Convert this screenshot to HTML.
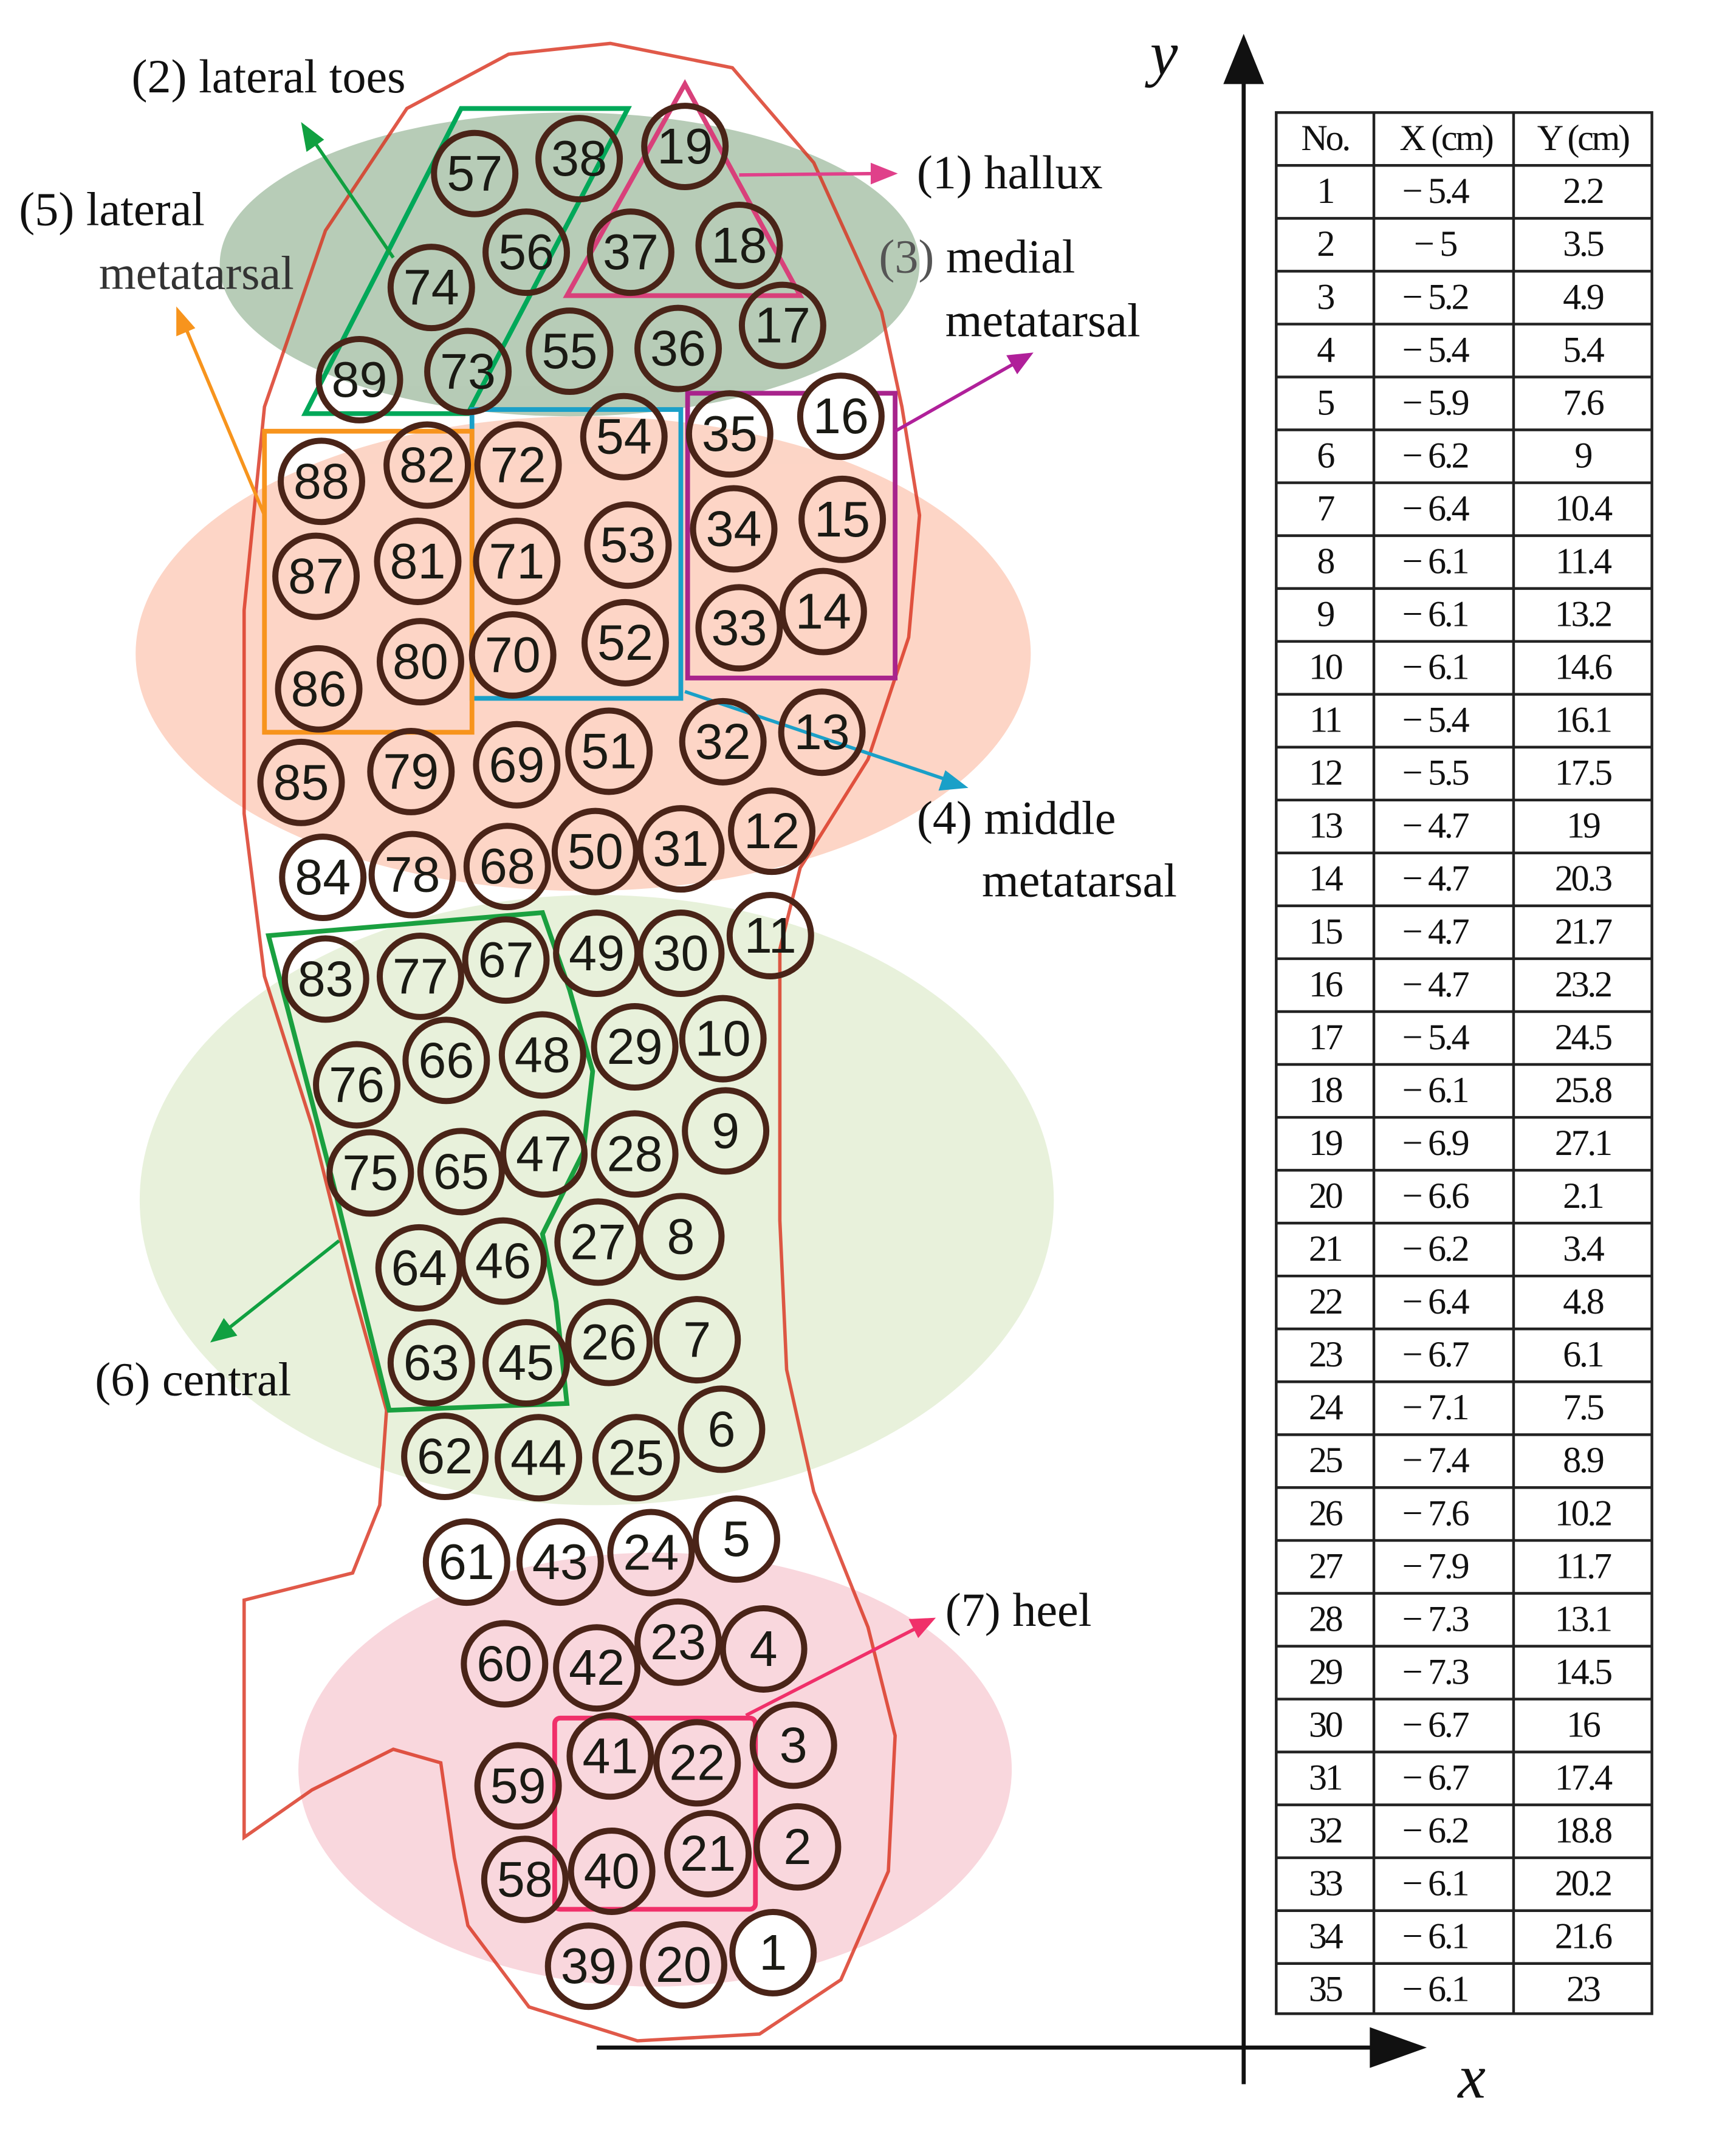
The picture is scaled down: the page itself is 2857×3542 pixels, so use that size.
<!DOCTYPE html>
<html><head><meta charset="utf-8"><style>html,body{margin:0;padding:0;background:#fff}svg{display:block}</style></head><body>
<svg width="2857" height="3542" viewBox="0 0 1280 1587" preserveAspectRatio="none" xmlns="http://www.w3.org/2000/svg">
<rect width="1280" height="1587" fill="#fff"/>
<g opacity="0.8">
<ellipse cx="420" cy="195" rx="258" ry="112" fill="#a5bfa5"/>
<ellipse cx="430" cy="482" rx="330" ry="175" fill="#fccbb8"/>
<ellipse cx="440" cy="885" rx="337" ry="225" fill="#e2eed2"/>
<ellipse cx="483" cy="1305" rx="263" ry="160" fill="#f8cdd4"/>
</g>
<path d="M375,40 L450,32 L540,50 L600,120 L650,230 L665,300 L678,380 L670,470 L640,560 L590,640 L575,700 L575,900 L580,1010 L600,1100 L640,1200 L660,1280 L655,1380 L620,1460 L560,1500 L470,1505 L390,1480 L345,1420 L335,1370 L325,1300 L290,1290 L230,1320 L180,1355 L180,1180 L260,1160 L280,1110 L285,1040 L260,950 L230,830 L195,720 L180,600 L180,450 L195,300 L240,170 L300,80 Z" fill="none" stroke="#d8301c" stroke-opacity="0.8" stroke-width="2.5"/>
<g fill="none" stroke-width="3.5">
<polygon points="225,305 340,80 463,80 345,305" stroke="#00a859"/>
<polygon points="505,62 418,218 590,218" stroke="#d8407a"/>
<rect x="348" y="302" width="154" height="213" stroke="#1aa0c8"/>
<rect x="507" y="290" width="153" height="210" stroke="#a8248c"/>
<rect x="195" y="318" width="153" height="222" stroke="#f7941d"/>
<polygon points="198,690 400,673 420,730 437,790 430,850 400,910 410,960 418,1035 287,1040 245,870" stroke="#1aa040"/>
<rect x="409" y="1267" width="148" height="141" rx="4" stroke="#f0306a"/>
</g>
<g stroke-width="2.5" fill="none">
<line x1="545" y1="129" x2="645" y2="128" stroke="#e0408a"/><path d="M662,128 L642,120 L642,136 Z" fill="#e0408a"/>
<line x1="290" y1="190" x2="230" y2="102" stroke="#10a040"/><path d="M222,90 L226,112 L239,103 Z" fill="#10a040"/>
<line x1="195" y1="380" x2="137" y2="242" stroke="#f7941d"/><path d="M130,226 L130,248 L144,242 Z" fill="#f7941d"/>
<line x1="660" y1="318" x2="748" y2="268" stroke="#b0209a"/><path d="M762,260 L742,262 L750,276 Z" fill="#b0209a"/>
<line x1="505" y1="510" x2="698" y2="575" stroke="#1aa0c8"/><path d="M714,581 L697,568 L692,583 Z" fill="#1aa0c8"/>
<line x1="250" y1="915" x2="168" y2="980" stroke="#10a040"/><path d="M155,990 L175,985 L165,972 Z" fill="#10a040"/>
<line x1="550" y1="1265" x2="675" y2="1201" stroke="#f0306a"/><path d="M690,1193 L670,1194 L677,1208 Z" fill="#f0306a"/>
</g>
<g font-family="Liberation Serif, serif" font-size="35" fill="#111">
<text x="97" y="68">(2) lateral toes</text>
<text x="676" y="139">(1) hallux</text>
<text x="14" y="166">(5) lateral</text>
<text x="73" y="213" fill="#333">metatarsal</text>
<text x="648" y="201"><tspan fill="#555">(3)</tspan> medial</text>
<text x="697" y="248">metatarsal</text>
<text x="676" y="615">(4) middle</text>
<text x="724" y="661">metatarsal</text>
<text x="70" y="1029">(6) central</text>
<text x="697" y="1199">(7) heel</text>
<text x="848" y="55" font-size="46" font-style="italic">y</text>
<text x="1075" y="1547" font-size="46" font-style="italic">x</text>
</g>
<line x1="917" y1="55" x2="917" y2="1537" stroke="#111" stroke-width="3"/>
<path d="M917,25 L902,62 L932,62 Z" fill="#111"/>
<line x1="440" y1="1510" x2="1015" y2="1510" stroke="#111" stroke-width="3"/>
<path d="M1052,1510 L1010,1495 L1010,1525 Z" fill="#111"/>
<g fill="none" stroke="#4a2418" stroke-width="4.5">
<circle cx="350" cy="128" r="30"/><circle cx="427" cy="117" r="30"/><circle cx="505" cy="108" r="30"/>
<circle cx="318" cy="212" r="30"/><circle cx="388" cy="186" r="30"/><circle cx="465" cy="186" r="30"/><circle cx="545" cy="181" r="30"/>
<circle cx="265" cy="280" r="30"/><circle cx="345" cy="274" r="30"/><circle cx="420" cy="259" r="30"/><circle cx="500" cy="257" r="30"/><circle cx="577" cy="240" r="30"/>
<circle cx="460" cy="322" r="30"/><circle cx="538" cy="320" r="30"/><circle cx="620" cy="307" r="30" fill="#fff"/>
<circle cx="237" cy="355" r="30"/><circle cx="315" cy="343" r="30"/><circle cx="382" cy="343" r="30"/>
<circle cx="233" cy="425" r="30"/><circle cx="308" cy="414" r="30"/><circle cx="381" cy="414" r="30"/><circle cx="463" cy="402" r="30"/><circle cx="541" cy="390" r="30"/><circle cx="621" cy="383" r="30"/>
<circle cx="235" cy="508" r="30"/><circle cx="310" cy="488" r="30"/><circle cx="378" cy="483" r="30"/><circle cx="461" cy="474" r="30"/><circle cx="545" cy="463" r="30"/><circle cx="607" cy="451" r="30"/>
<circle cx="222" cy="577" r="30"/><circle cx="303" cy="569" r="30"/><circle cx="381" cy="564" r="30"/><circle cx="449" cy="554" r="30"/><circle cx="533" cy="547" r="30"/><circle cx="606" cy="540" r="30"/>
<circle cx="238" cy="647" r="30" fill="#fff"/><circle cx="304" cy="645" r="30"/><circle cx="374" cy="639" r="30"/><circle cx="439" cy="628" r="30"/><circle cx="502" cy="626" r="30"/><circle cx="569" cy="613" r="30"/>
<circle cx="240" cy="722" r="30"/><circle cx="310" cy="720" r="30"/><circle cx="373" cy="708" r="30"/><circle cx="440" cy="703" r="30"/><circle cx="502" cy="703" r="30"/><circle cx="568" cy="690" r="30"/>
<circle cx="263" cy="800" r="30"/><circle cx="329" cy="782" r="30"/><circle cx="400" cy="778" r="30"/><circle cx="468" cy="772" r="30"/><circle cx="533" cy="766" r="30"/>
<circle cx="273" cy="865" r="30"/><circle cx="340" cy="864" r="30"/><circle cx="401" cy="851" r="30"/><circle cx="468" cy="851" r="30"/><circle cx="535" cy="834" r="30"/>
<circle cx="309" cy="935" r="30"/><circle cx="371" cy="930" r="30"/><circle cx="441" cy="916" r="30"/><circle cx="502" cy="912" r="30"/>
<circle cx="318" cy="1005" r="30"/><circle cx="388" cy="1005" r="30"/><circle cx="449" cy="990" r="30"/><circle cx="514" cy="988" r="30"/>
<circle cx="328" cy="1074" r="30"/><circle cx="397" cy="1075" r="30"/><circle cx="469" cy="1075" r="30"/><circle cx="532" cy="1054" r="30"/>
<circle cx="344" cy="1152" r="30" fill="#fff"/><circle cx="413" cy="1152" r="30"/><circle cx="480" cy="1145" r="30"/><circle cx="543" cy="1135" r="30" fill="#fff"/>
<circle cx="372" cy="1227" r="30"/><circle cx="440" cy="1230" r="30"/><circle cx="500" cy="1211" r="30"/><circle cx="563" cy="1216" r="30"/>
<circle cx="382" cy="1317" r="30"/><circle cx="450" cy="1295" r="30"/><circle cx="514" cy="1300" r="30"/><circle cx="585" cy="1287" r="30"/>
<circle cx="387" cy="1386" r="30"/><circle cx="451" cy="1380" r="30"/><circle cx="522" cy="1367" r="30"/><circle cx="588" cy="1362" r="30"/>
<circle cx="434" cy="1450" r="30"/><circle cx="504" cy="1449" r="30"/><circle cx="570" cy="1440" r="30" fill="#fff"/>
</g>
<g font-family="Liberation Sans, sans-serif" font-size="37" fill="#1a1a14" text-anchor="middle" dominant-baseline="central">
<text x="350" y="128">57</text><text x="427" y="117">38</text><text x="505" y="108">19</text>
<text x="318" y="212">74</text><text x="388" y="186">56</text><text x="465" y="186">37</text><text x="545" y="181">18</text>
<text x="265" y="280">89</text><text x="345" y="274">73</text><text x="420" y="259">55</text><text x="500" y="257">36</text><text x="577" y="240">17</text>
<text x="460" y="322">54</text><text x="538" y="320">35</text><text x="620" y="307">16</text>
<text x="237" y="355">88</text><text x="315" y="343">82</text><text x="382" y="343">72</text>
<text x="233" y="425">87</text><text x="308" y="414">81</text><text x="381" y="414">71</text><text x="463" y="402">53</text><text x="541" y="390">34</text><text x="621" y="383">15</text>
<text x="235" y="508">86</text><text x="310" y="488">80</text><text x="378" y="483">70</text><text x="461" y="474">52</text><text x="545" y="463">33</text><text x="607" y="451">14</text>
<text x="222" y="577">85</text><text x="303" y="569">79</text><text x="381" y="564">69</text><text x="449" y="554">51</text><text x="533" y="547">32</text><text x="606" y="540">13</text>
<text x="238" y="647">84</text><text x="304" y="645">78</text><text x="374" y="639">68</text><text x="439" y="628">50</text><text x="502" y="626">31</text><text x="569" y="613">12</text>
<text x="240" y="722">83</text><text x="310" y="720">77</text><text x="373" y="708">67</text><text x="440" y="703">49</text><text x="502" y="703">30</text><text x="568" y="690">11</text>
<text x="263" y="800">76</text><text x="329" y="782">66</text><text x="400" y="778">48</text><text x="468" y="772">29</text><text x="533" y="766">10</text>
<text x="273" y="865">75</text><text x="340" y="864">65</text><text x="401" y="851">47</text><text x="468" y="851">28</text><text x="535" y="834">9</text>
<text x="309" y="935">64</text><text x="371" y="930">46</text><text x="441" y="916">27</text><text x="502" y="912">8</text>
<text x="318" y="1005">63</text><text x="388" y="1005">45</text><text x="449" y="990">26</text><text x="514" y="988">7</text>
<text x="328" y="1074">62</text><text x="397" y="1075">44</text><text x="469" y="1075">25</text><text x="532" y="1054">6</text>
<text x="344" y="1152">61</text><text x="413" y="1152">43</text><text x="480" y="1145">24</text><text x="543" y="1135">5</text>
<text x="372" y="1227">60</text><text x="440" y="1230">42</text><text x="500" y="1211">23</text><text x="563" y="1216">4</text>
<text x="382" y="1317">59</text><text x="450" y="1295">41</text><text x="514" y="1300">22</text><text x="585" y="1287">3</text>
<text x="387" y="1386">58</text><text x="451" y="1380">40</text><text x="522" y="1367">21</text><text x="588" y="1362">2</text>
<text x="434" y="1450">39</text><text x="504" y="1449">20</text><text x="570" y="1440">1</text>
</g>
<g stroke="#222" stroke-width="2" fill="none">
<rect x="941" y="83" width="277" height="1402"/>
<line x1="1013" y1="83" x2="1013" y2="1485"/><line x1="1116" y1="83" x2="1116" y2="1485"/>
<path d="M941,122H1218M941,161H1218M941,200H1218M941,239H1218M941,278H1218M941,317H1218M941,356H1218M941,395H1218M941,434H1218M941,473H1218M941,512H1218M941,551H1218M941,590H1218M941,629H1218M941,668H1218M941,707H1218M941,746H1218M941,785H1218M941,824H1218M941,863H1218M941,902H1218M941,941H1218M941,980H1218M941,1019H1218M941,1058H1218M941,1097H1218M941,1136H1218M941,1175H1218M941,1214H1218M941,1253H1218M941,1292H1218M941,1331H1218M941,1370H1218M941,1409H1218M941,1448H1218"/>
</g>
<g font-family="Liberation Serif, serif" font-size="27" fill="#111" text-anchor="middle" dominant-baseline="central" letter-spacing="-1.5">
<text x="977" y="102">No.</text><text x="1066" y="102">X (cm)</text><text x="1167" y="102">Y (cm)</text>
<text x="977" y="141">1</text><text x="1058" y="141">− 5.4</text><text x="1167" y="141">2.2</text>
<text x="977" y="180">2</text><text x="1058" y="180">− 5</text><text x="1167" y="180">3.5</text>
<text x="977" y="219">3</text><text x="1058" y="219">− 5.2</text><text x="1167" y="219">4.9</text>
<text x="977" y="258">4</text><text x="1058" y="258">− 5.4</text><text x="1167" y="258">5.4</text>
<text x="977" y="297">5</text><text x="1058" y="297">− 5.9</text><text x="1167" y="297">7.6</text>
<text x="977" y="336">6</text><text x="1058" y="336">− 6.2</text><text x="1167" y="336">9</text>
<text x="977" y="375">7</text><text x="1058" y="375">− 6.4</text><text x="1167" y="375">10.4</text>
<text x="977" y="414">8</text><text x="1058" y="414">− 6.1</text><text x="1167" y="414">11.4</text>
<text x="977" y="453">9</text><text x="1058" y="453">− 6.1</text><text x="1167" y="453">13.2</text>
<text x="977" y="492">10</text><text x="1058" y="492">− 6.1</text><text x="1167" y="492">14.6</text>
<text x="977" y="531">11</text><text x="1058" y="531">− 5.4</text><text x="1167" y="531">16.1</text>
<text x="977" y="570">12</text><text x="1058" y="570">− 5.5</text><text x="1167" y="570">17.5</text>
<text x="977" y="609">13</text><text x="1058" y="609">− 4.7</text><text x="1167" y="609">19</text>
<text x="977" y="648">14</text><text x="1058" y="648">− 4.7</text><text x="1167" y="648">20.3</text>
<text x="977" y="687">15</text><text x="1058" y="687">− 4.7</text><text x="1167" y="687">21.7</text>
<text x="977" y="726">16</text><text x="1058" y="726">− 4.7</text><text x="1167" y="726">23.2</text>
<text x="977" y="765">17</text><text x="1058" y="765">− 5.4</text><text x="1167" y="765">24.5</text>
<text x="977" y="804">18</text><text x="1058" y="804">− 6.1</text><text x="1167" y="804">25.8</text>
<text x="977" y="843">19</text><text x="1058" y="843">− 6.9</text><text x="1167" y="843">27.1</text>
<text x="977" y="882">20</text><text x="1058" y="882">− 6.6</text><text x="1167" y="882">2.1</text>
<text x="977" y="921">21</text><text x="1058" y="921">− 6.2</text><text x="1167" y="921">3.4</text>
<text x="977" y="960">22</text><text x="1058" y="960">− 6.4</text><text x="1167" y="960">4.8</text>
<text x="977" y="999">23</text><text x="1058" y="999">− 6.7</text><text x="1167" y="999">6.1</text>
<text x="977" y="1038">24</text><text x="1058" y="1038">− 7.1</text><text x="1167" y="1038">7.5</text>
<text x="977" y="1077">25</text><text x="1058" y="1077">− 7.4</text><text x="1167" y="1077">8.9</text>
<text x="977" y="1116">26</text><text x="1058" y="1116">− 7.6</text><text x="1167" y="1116">10.2</text>
<text x="977" y="1155">27</text><text x="1058" y="1155">− 7.9</text><text x="1167" y="1155">11.7</text>
<text x="977" y="1194">28</text><text x="1058" y="1194">− 7.3</text><text x="1167" y="1194">13.1</text>
<text x="977" y="1233">29</text><text x="1058" y="1233">− 7.3</text><text x="1167" y="1233">14.5</text>
<text x="977" y="1272">30</text><text x="1058" y="1272">− 6.7</text><text x="1167" y="1272">16</text>
<text x="977" y="1311">31</text><text x="1058" y="1311">− 6.7</text><text x="1167" y="1311">17.4</text>
<text x="977" y="1350">32</text><text x="1058" y="1350">− 6.2</text><text x="1167" y="1350">18.8</text>
<text x="977" y="1389">33</text><text x="1058" y="1389">− 6.1</text><text x="1167" y="1389">20.2</text>
<text x="977" y="1428">34</text><text x="1058" y="1428">− 6.1</text><text x="1167" y="1428">21.6</text>
<text x="977" y="1467">35</text><text x="1058" y="1467">− 6.1</text><text x="1167" y="1467">23</text>
</g>
</svg>
</body></html>
